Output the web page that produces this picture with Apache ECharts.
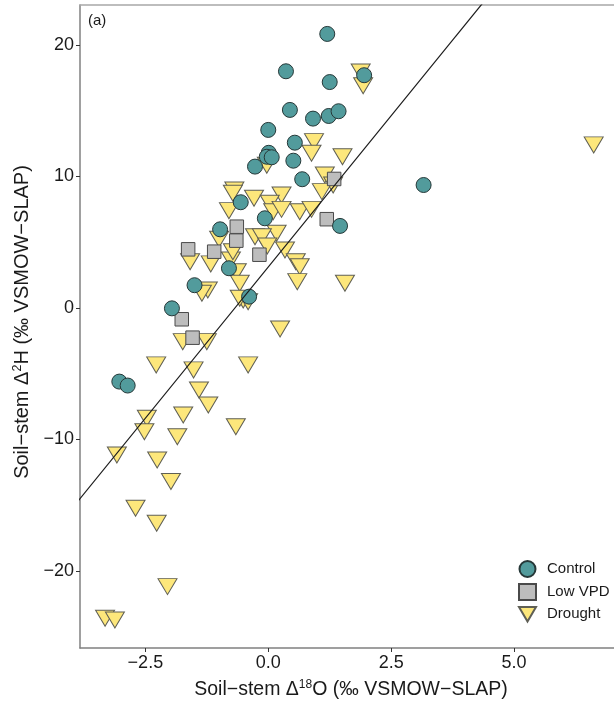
<!DOCTYPE html>
<html>
<head>
<meta charset="utf-8">
<script src="https://cdn.jsdelivr.net/npm/echarts@6/dist/echarts.min.js"></script>
<style>
html,body{margin:0;padding:0;background:#fff;overflow:hidden;}
#chart{width:614px;height:708px;}
</style>
</head>
<body>
<div id="chart"></div>
<script>
// ---- data ----
var controlX = [1.20, 0.36, 1.25, 1.95, 0.44, 0.91, 1.23, 1.43, 0.00, 0.54, 0.01, -0.03, 0.07, 0.51, -0.27, 0.69, -0.56, -0.07, -0.98, 1.46, -0.80, -1.50, -0.39, 3.16, -1.96, -3.03, -2.86];
var controlY = [20.84, 18.0, 17.18, 17.7, 15.06, 14.4, 14.6, 14.96, 13.54, 12.57, 11.8, 11.5, 11.46, 11.2, 10.75, 9.79, 8.04, 6.82, 5.98, 6.24, 3.02, 1.73, 0.86, 9.35, -0.03, -5.6, -5.9];

var lowVpdX = [1.34, 1.19, -0.64, -0.65, -1.10, -0.18, -1.63, -1.76, -1.54];
var lowVpdY = [9.81, 6.75, 6.18, 5.12, 4.28, 4.05, 4.46, -0.86, -2.26];

var droughtX = [1.88, 1.93, 0.93, 0.88, 1.51, -0.03, 1.15, 1.32, 1.09,
  -0.69, -0.72, -0.29, 0.27, 0.03,
  -0.80, 0.10, 0.27, 0.64, 0.88,
  0.17, -0.27, -0.13, -0.02, -1.00,
  -1.17, -0.76, -0.72, -0.64, -0.58, -1.23, -1.35, -1.59,
  0.34, 0.56, 0.64, 0.59, 1.56, -0.51, -0.41, -0.58,
  0.24, -1.74, -1.25, -2.28, -1.52, -0.41, -1.41, -1.22,
  -2.47, -1.73, -2.52, -1.85, -0.66, -3.08, -2.26, -1.98, -2.70, -2.27, -2.05, -3.32, -3.12, 6.62];
var droughtY = [17.95, 16.9, 12.65, 11.76, 11.5, 10.85, 10.11, 9.35, 8.85,
  8.97, 8.72, 8.34, 8.59, 7.96,
  7.4, 7.32, 7.5, 7.32, 7.5,
  5.68, 5.42, 5.42, 4.71, 5.22,
  3.35, 3.65, 4.28, 2.76, 1.88, 1.37, 1.12, 3.52,
  4.41, 3.52, 3.14, 2.0, 1.88, 0.61, 0.48, 0.74,
  -1.6, -2.56, -2.56, -4.33, -4.71, -4.33, -6.24, -7.38,
  -8.39, -8.14, -9.41, -9.79, -9.03, -11.18, -11.56, -13.2, -15.23, -16.37, -21.19, -23.6, -23.73, 12.4];

// fitted line end points
var fitX = [-4.0, 4.5];
var fitY = [-15.28, 23.82];

var xTicks = [-2.5, 0.0, 2.5, 5.0];
var yTicks = [-20, -10, 0, 10, 20];

function pairs(xs, ys) { return xs.map(function (x, i) { return [x, ys[i]]; }); }
function fmtMinus(s) { return String(s).replace('-', '\u2212'); }

var TRI = 'path://M0,0 L20,0 L10,17 Z';
var FONT = 'Liberation Sans, Arial, sans-serif';
var X_MIN = -3.83, X_MAX = 7.44;

var chart = echarts.init(document.getElementById('chart'), null, {renderer: 'canvas'});
chart.setOption({
  animation: false,
  backgroundColor: '#ffffff',
  textStyle: {fontFamily: FONT},
  grid: {left: 80, top: 5, right: -20, bottom: 60, show: false, outerBoundsMode: 'none', containLabel: false},
  xAxis: [{
    type: 'value', min: X_MIN, max: X_MAX,
    splitLine: {show: false},
    axisLine: {show: true, onZero: false, lineStyle: {color: '#808080', width: 1.5}},
    axisTick: {show: true, length: 4, lineStyle: {color: '#333'}, customValues: xTicks},
    axisLabel: {customValues: xTicks, color: '#1a1a1a', fontSize: 18, margin: 6, fontFamily: FONT,
      formatter: function (v) { return fmtMinus(v.toFixed(1)); }}
  }, {
    type: 'value', position: 'top', min: X_MIN, max: X_MAX,
    splitLine: {show: false}, axisTick: {show: false}, axisLabel: {show: false},
    axisLine: {show: true, onZero: false, lineStyle: {color: '#a8a8a8', width: 1.5}}
  }],
  yAxis: {
    type: 'value', min: -25.86, max: 23.04,
    splitLine: {show: false},
    axisLine: {show: true, onZero: false, lineStyle: {color: '#808080', width: 1.5}},
    axisTick: {show: true, length: 4, lineStyle: {color: '#333'}, customValues: yTicks},
    axisLabel: {customValues: yTicks, color: '#1a1a1a', fontSize: 18, margin: 6, fontFamily: FONT,
      formatter: function (v) { return fmtMinus(v); }}
  },
  legend: {
    orient: 'vertical', left: 513, top: 555, itemGap: 5, itemWidth: 17, itemHeight: 16,
    textStyle: {fontSize: 15, color: '#1a1a1a', fontFamily: FONT, padding: [0, 0, 0, 6]},
    data: [
      {name: 'Control', icon: 'circle'},
      {name: 'Low VPD', icon: 'rect'},
      {name: 'Drought', icon: TRI}
    ]
  },
  graphic: [
    {type: 'text', left: 88, top: 13, style: {text: '(a)', fontSize: 15, fill: '#1a1a1a', fontFamily: FONT}},
    {type: 'text', x: 351, y: 690, style: {
      text: '{a|Soil\u2212stem \u0394}{s|18}{a|O (\u2030 VSMOW\u2212SLAP)}',
      align: 'center', verticalAlign: 'middle',
      rich: {a: {fontSize: 19.5, fill: '#1a1a1a', fontFamily: FONT, lineHeight: 22},
             s: {fontSize: 12, fill: '#1a1a1a', fontFamily: FONT, verticalAlign: 'top', lineHeight: 22, padding: [0, 0, 7, 0]}}
    }},
    {type: 'text', x: 22, y: 322, rotation: Math.PI / 2, style: {
      text: '{a|Soil\u2212stem \u0394}{s|2}{a|H (\u2030 VSMOW\u2212SLAP)}',
      align: 'center', verticalAlign: 'middle',
      rich: {a: {fontSize: 20, fill: '#1a1a1a', fontFamily: FONT, lineHeight: 22},
             s: {fontSize: 12.5, fill: '#1a1a1a', fontFamily: FONT, verticalAlign: 'top', lineHeight: 22, padding: [0, 0, 7, 0]}}
    }}
  ],
  series: [
    {name: 'Drought', type: 'scatter', z: 2, data: pairs(droughtX, droughtY),
      symbol: TRI, symbolSize: [19, 16],
      itemStyle: {color: '#fde77b', borderColor: '#5f5f55', borderWidth: 1, opacity: 1}},
    {name: 'Low VPD', type: 'scatter', z: 3, data: pairs(lowVpdX, lowVpdY),
      symbol: 'rect', symbolSize: 13.5,
      itemStyle: {color: '#bdbdbd', borderColor: '#4a4a4a', borderWidth: 1, opacity: 1}},
    {name: 'Control', type: 'scatter', z: 4, data: pairs(controlX, controlY),
      symbol: 'circle', symbolSize: 15,
      itemStyle: {color: '#529b9c', borderColor: '#263838', borderWidth: 1, opacity: 1}},
    {name: 'fit', type: 'line', z: 5, data: pairs(fitX, fitY), symbol: 'none', clip: true,
      lineStyle: {color: '#1a1a1a', width: 1.2}, silent: true}
  ]
});
</script>
</body>
</html>
